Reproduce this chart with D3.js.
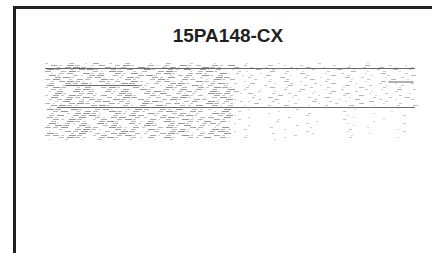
<!DOCTYPE html>
<html>
<head>
<meta charset="utf-8">
<script src="https://cdn.jsdelivr.net/npm/d3@7"></script>
<style>
  body { margin: 0; background: #fff; }
  svg { display: block; }
</style>
</head>
<body>
<div id="chart"></div>
<script>
// Title of the panel
var title = "15PA148-CX";

// Raster rows: one string per track row, one char per bin (0 = empty, 1..5 = signal strength)
// left half and right half of the track
var rowsLeft = [
    "20030140203001030020010",
    "42530240352041305230425",
    "02453104230520341205320",
    "53024520314052032504130",
    "40352031540230452013520",
    "13405230425103520342051",
    "52031450320452013405230",
    "04520341025304250312054",
    "35024305314203520430152",
    "24531042305203412053200",
    "30435203154023045201352",
    "50314503204520134052302",
    "25302403520413052304254",
    "32045203140520325041305",
    "14052304251035203420513",
    "05203410253042503120544",
    "24253024035204130523042",
    "50435203154023045201352",
    "23502430531420352043015",
    "02503145032045201340523",
    "31045310423052034120532",
    "45320452031405203250413",
    "13140523042510352034205",
    "54052034102530425031205",
    "03502430531420352043015",
    "20245310423052034120532",
    "35043520315402304520135",
    "42025031450320452013405",
    "04253024035204130523042",
    "30532045203140520325041",
    "51314052304251035203420",
    "25405203410253042503120",
    "43502430531420352043015",
    "02045310423052034120532",
    "10435203154023045201352",
    "52025031450320452013405",
    "34253024035204130523042",
    "03532045203140520325041",
    "10201030102001020100100"
];

var rowsRight = [
    "00100010000200000100000",
    "02003010200020103002010",
    "30201002030100202030102",
    "10030200102003010020302",
    "02100302010020030102010",
    "20010020300102001030020",
    "01203001020030200102003",
    "00201030020100302001020",
    "30020102003020010200301",
    "01002030100200201030000",
    "20300102002030010020102",
    "00102003020100300201020",
    "10200301002020103002010",
    "02010020300102002010302",
    "30020100201030020100200",
    "01300202001020300102001",
    "20010030200100203010020",
    "00203001020300100202030",
    "10020300102001030020102",
    "02100201003020100302000",
    "20030010200102003001020",
    "01002030010200300100203",
    "00200100003000200010002",
    "00100000200000010000000",
    "02000010000000200000100",
    "00001000020000000100000",
    "10000000020000100000020",
    "00100002000000010000000",
    "02000010000000200001000",
    "00000200001000000100000",
    "10000000020000100000020",
    "00100000200000010000000",
    "00000200001000000100000",
    "02000010000000200000100",
    "10000000020000100000020",
    "00000200001000000100000",
    "00100000200000010000000",
    "02000010000000200000100",
    "00000100000000000000000"
];

// Long reference segments: row position and bin span
var segRow   = [2.5, 22, 11, 9];
var segStart = [0, 1.5, 2.6, 42.7];
var segEnd   = [46, 46, 11.4, 45.8];
var segTone  = [1, 1, 1, 0.5];

function drawRaster() {
    var width = 432,
        height = 253,
        margin = {top: 63, left: 45, right: 17, bottom: 112};

    var innerWidth = width - margin.left - margin.right,
        innerHeight = height - margin.top - margin.bottom;

    var svg = d3.select("#chart").append("svg")
        .attr("width", width)
        .attr("height", height);

    // Frame (cropped box)
    svg.append("path")
        .attr("d", "M14.5,253 V7.5 H432")
        .attr("fill", "none")
        .attr("stroke", "#231f20")
        .attr("stroke-width", 3);

    svg.append("text")
        .attr("x", 228)
        .attr("y", 42)
        .attr("text-anchor", "middle")
        .attr("font-family", "Liberation Sans, Arial, Helvetica, sans-serif")
        .attr("font-weight", "bold")
        .attr("font-size", 19)
        .attr("fill", "#231f20")
        .text(title);

    var g = svg.append("g")
        .attr("transform", "translate(" + margin.left + "," + margin.top + ")");

    var rows = rowsLeft.map(function(r, i) { return r + rowsRight[i]; });
    var nCols = 46;

    var xScale = d3.scaleLinear().domain([0, nCols]).range([0, innerWidth]);
    var yScale = d3.scaleLinear().domain([0, rows.length]).range([0, innerHeight]);
    var wScale = d3.scaleLinear().domain([1, 5]).range([2, 7]);
    var cScale = d3.scaleLinear().domain([1, 5]).range(["#d6d6d6", "#969696"]);

    var cells = [];
    rows.forEach(function(r, i) {
        r.split("").forEach(function(ch, j) {
            var v = +ch;
            if (v > 0) cells.push({row: i, col: j, value: v});
        });
    });

    // staggered grid: each row's bins shift by a quarter bin
    g.selectAll(".cell")
        .data(cells)
        .enter().append("rect")
        .attr("class", "cell")
        .attr("x", function(d) { return Math.round(xScale(d.col + (d.row * 3 % 4) * 0.25)); })
        .attr("y", function(d) { return Math.round(yScale(d.row)); })
        .attr("width", function(d) { return Math.round(wScale(d.value)); })
        .attr("height", 1)
        .attr("fill", function(d) { return cScale(d.value); });

    var segs = segRow.map(function(r, i) {
        return {row: r, x0: segStart[i], x1: segEnd[i], tone: segTone[i]};
    });

    g.selectAll(".seg")
        .data(segs)
        .enter().append("rect")
        .attr("class", "seg")
        .attr("x", function(d) { return xScale(d.x0); })
        .attr("y", function(d) { return Math.round(yScale(d.row)); })
        .attr("width", function(d) { return xScale(d.x1) - xScale(d.x0); })
        .attr("height", function(d) { return d.tone < 1 ? 2 : 1; })
        .attr("fill", function(d) { return d.tone < 1 ? "#b0b0b0" : "#6a6a6a"; });
}

drawRaster();
</script>
</body>
</html>
